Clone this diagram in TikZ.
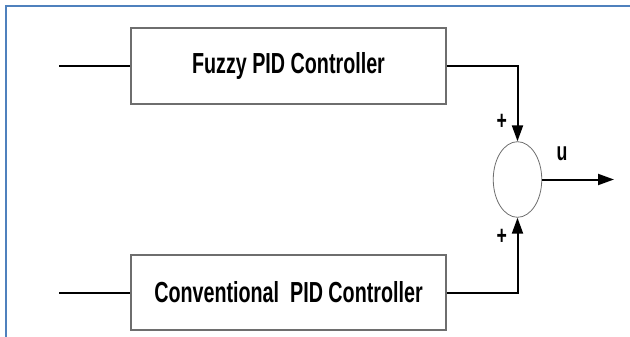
\documentclass[tikz,border=0pt]{standalone}
\usepackage{fontspec}
\usetikzlibrary{arrows.meta,shapes.geometric}
\newfontfamily\narrowfont{Liberation Sans Bold}[FakeStretch=0.68]
\definecolor{frameblue}{RGB}{79,129,189}
\definecolor{boxgray}{RGB}{110,110,110}
\tikzset{
  ctrlbox/.style={draw=boxgray,line width=1.1pt,minimum width=315pt,minimum height=76pt,inner sep=0pt,
    font=\narrowfont\fontsize{29}{32}\selectfont},
  sumnode/.style={draw=boxgray,ellipse,line width=0.8pt,minimum width=48.5pt,minimum height=75.6pt,inner sep=0pt},
  sig/.style={line width=2pt,black},
  sigarrow/.style={sig,-{Triangle[length=16pt,width=11pt]}},
  lbl/.style={font=\narrowfont\fontsize{26}{28}\selectfont,inner sep=0pt},
}
\begin{document}
\begin{tikzpicture}[x=1pt,y=-1pt]
\useasboundingbox (0,0) rectangle (630,337);
\fill[white] (0,0) rectangle (630,337);
\draw[frameblue,line width=2pt] (5.5,337) -- (5.5,6.5) -- (630,6.5);
\node[ctrlbox] (fuzzy) at (288.5,66) {Fuzzy PID Controller};
\node[ctrlbox,minimum height=75pt] (conv) at (288.5,292.5) {Conventional~~PID Controller};
\node[sumnode] (sum) at (517.5,179.5) {};
\coordinate (in1) at (59,66);
\coordinate (in2) at (59,292.5);
\coordinate (out) at (614,179.5);
\draw[sig] (in1) -- (fuzzy.west);
\draw[sig] (in2) -- (conv.west);
\draw[sigarrow] (fuzzy.east) -| (sum.north);
\draw[sigarrow] (conv.east) -| (sum.south);
\draw[sigarrow] (sum.east) -- (out);
\node[lbl] (p1) at (501.7,122) {+};
\node[lbl] (p2) at (501.7,237) {+};
\node[lbl] (u) at (562,154) {u};
\end{tikzpicture}
\end{document}
